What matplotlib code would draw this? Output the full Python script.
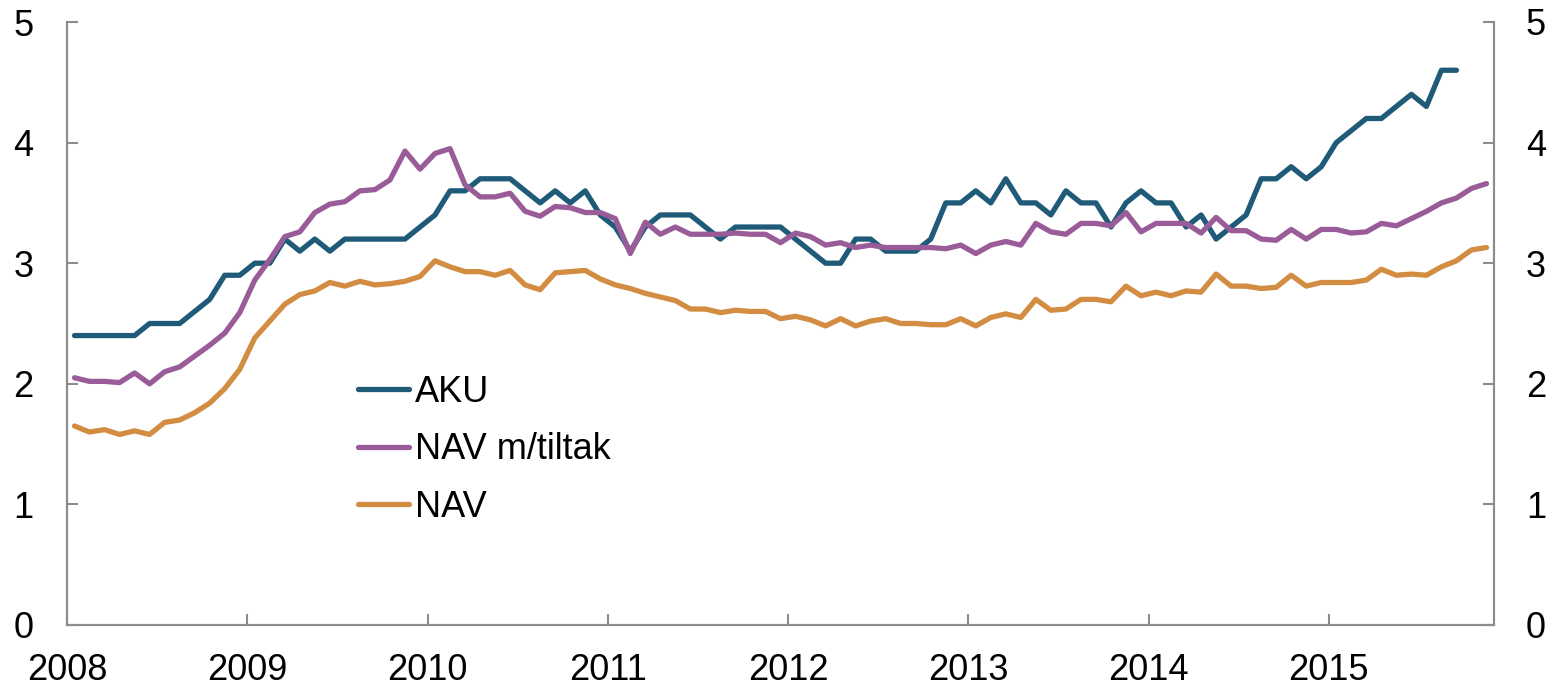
import numpy as np
import matplotlib.pyplot as plt

plt.rcParams['font.family'] = ['Liberation Sans', 'DejaVu Sans']

# monthly values, Jan 2008 onwards
aku = [2.4, 2.4, 2.4, 2.4, 2.4, 2.5, 2.5, 2.5, 2.6, 2.7, 2.9, 2.9, 3.0, 3.0, 3.2, 3.1,
       3.2, 3.1, 3.2, 3.2, 3.2, 3.2, 3.2, 3.3, 3.4, 3.6, 3.6, 3.7, 3.7, 3.7, 3.6, 3.5,
       3.6, 3.5, 3.6, 3.4, 3.3, 3.1, 3.3, 3.4, 3.4, 3.4, 3.3, 3.2, 3.3, 3.3, 3.3, 3.3,
       3.2, 3.1, 3.0, 3.0, 3.2, 3.2, 3.1, 3.1, 3.1, 3.2, 3.5, 3.5, 3.6, 3.5, 3.7, 3.5,
       3.5, 3.4, 3.6, 3.5, 3.5, 3.3, 3.5, 3.6, 3.5, 3.5, 3.3, 3.4, 3.2, 3.3, 3.4, 3.7,
       3.7, 3.8, 3.7, 3.8, 4.0, 4.1, 4.2, 4.2, 4.3, 4.4, 4.3, 4.6, 4.6]

nav_tiltak = [2.05, 2.02, 2.02, 2.01, 2.09, 2.00, 2.10, 2.14, 2.23, 2.32, 2.42, 2.59, 2.86, 3.03, 3.22, 3.26,
              3.42, 3.49, 3.51, 3.60, 3.61, 3.69, 3.93, 3.78, 3.91, 3.95, 3.65, 3.55, 3.55, 3.58, 3.43, 3.39,
              3.47, 3.46, 3.42, 3.42, 3.37, 3.08, 3.34, 3.24, 3.30, 3.24, 3.24, 3.24, 3.25, 3.24, 3.24, 3.17,
              3.25, 3.22, 3.15, 3.17, 3.13, 3.15, 3.13, 3.13, 3.13, 3.13, 3.12, 3.15, 3.08, 3.15, 3.18, 3.15,
              3.33, 3.26, 3.24, 3.33, 3.33, 3.31, 3.42, 3.26, 3.33, 3.33, 3.33, 3.25, 3.38, 3.27, 3.27, 3.20,
              3.19, 3.28, 3.20, 3.28, 3.28, 3.25, 3.26, 3.33, 3.31, 3.37, 3.43, 3.50, 3.54, 3.62, 3.66]

nav = [1.65, 1.60, 1.62, 1.58, 1.61, 1.58, 1.68, 1.70, 1.76, 1.84, 1.96, 2.12, 2.38, 2.52, 2.66, 2.74,
       2.77, 2.84, 2.81, 2.85, 2.82, 2.83, 2.85, 2.89, 3.02, 2.97, 2.93, 2.93, 2.90, 2.94, 2.82, 2.78,
       2.92, 2.93, 2.94, 2.87, 2.82, 2.79, 2.75, 2.72, 2.69, 2.62, 2.62, 2.59, 2.61, 2.60, 2.60, 2.54,
       2.56, 2.53, 2.48, 2.54, 2.48, 2.52, 2.54, 2.50, 2.50, 2.49, 2.49, 2.54, 2.48, 2.55, 2.58, 2.55,
       2.70, 2.61, 2.62, 2.70, 2.70, 2.68, 2.81, 2.73, 2.76, 2.73, 2.77, 2.76, 2.91, 2.81, 2.81, 2.79,
       2.80, 2.90, 2.81, 2.84, 2.84, 2.84, 2.86, 2.95, 2.90, 2.91, 2.90, 2.97, 3.02, 3.11, 3.13]

years = ['2008', '2009', '2010', '2011', '2012', '2013', '2014', '2015']

fig = plt.figure(figsize=(15.57, 6.87), dpi=100)
ax = fig.add_axes([67 / 1557, 62 / 687, 1427 / 1557, 603 / 687])

lw = 3.8
ax.plot(np.arange(len(aku)) + 0.5, aku, color='#1f5b78', lw=lw, label='AKU', solid_capstyle='round')
ax.plot(np.arange(len(nav_tiltak)) + 0.5, nav_tiltak, color='#995c99', lw=lw, label='NAV m/tiltak', solid_capstyle='round')
ax.plot(np.arange(len(nav)) + 0.5, nav, color='#d38d42', lw=lw, label='NAV', solid_capstyle='round')

ax.set_xlim(0, 95)
ax.set_ylim(0, 5)
ax.set_xticks(np.arange(len(years)) * 12)
ax.set_xticklabels(years)
ax.set_yticks(range(6))

ax2 = ax.twinx()
ax2.set_ylim(0, 5)
ax2.set_yticks(range(6))

spine_col = '#8c8c8c'
for a in (ax, ax2):
    for side in ('left', 'right', 'bottom'):
        a.spines[side].set_color(spine_col)
        a.spines[side].set_linewidth(1.5)
    a.spines['top'].set_visible(False)
    a.tick_params(direction='in', length=8, width=1.5, color=spine_col, labelsize=26)

ax.tick_params(axis='y', pad=24)
ax.tick_params(axis='x', pad=20)
ax2.tick_params(axis='y', pad=23)

ax.legend(loc='upper left', bbox_to_anchor=(0.204, 0.415), frameon=False, fontsize=26,
          handlelength=1.42, handletextpad=0.15, labelspacing=0.62, borderpad=0, borderaxespad=0)

fig.savefig('out.png', dpi=100)
